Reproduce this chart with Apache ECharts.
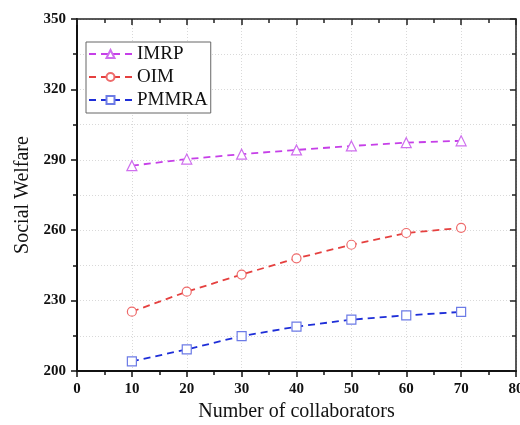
<!DOCTYPE html>
<html>
<head>
<meta charset="utf-8">
<script src="https://cdn.jsdelivr.net/npm/echarts@6/dist/echarts.min.js"></script>
<style>
  html, body { margin: 0; padding: 0; background: #fff; }
  #chart { width: 520px; height: 425px; }
</style>
</head>
<body>
<div id="chart"></div>
<script>
// Number of collaborators on the x axis
const collaborators = [10, 20, 30, 40, 50, 60, 70];

// Social welfare achieved by each scheme
const imrp  = [287.5, 290.3, 292.4, 294.2, 295.9, 297.3, 298.1];
const oim   = [225.3, 233.8, 241.1, 248.0, 253.8, 258.8, 261.0];
const pmmra = [204.1, 209.2, 214.9, 218.9, 221.9, 223.7, 225.2];

// Axis ranges and tick spacing
const xTicks = { min: 0, max: 80, step: 10 };
const yTicks = { min: 200, max: 350, step: 30 };

const serif = '"Liberation Serif", "Times New Roman", serif';

function pairs(ys) {
  return collaborators.map((x, i) => [x, ys[i]]);
}

function makeSeries(name, ys, lineColor, markColor, symbol, size) {
  return {
    name: name,
    type: 'line',
    data: pairs(ys),
    symbol: symbol,
    symbolSize: size,
    showAllSymbol: true,
    lineStyle: { color: lineColor, width: 1.8, type: [7, 5] },
    itemStyle: { color: '#fff', borderColor: markColor, borderWidth: 1.2 },
    emphasis: { disabled: true },
    z: 3
  };
}

const gridLine = { show: true, lineStyle: { color: '#d9d9d9', width: 1, type: [1, 2] } };

const chart = echarts.init(document.getElementById('chart'), null, { renderer: 'canvas' });
chart.setOption({
  animation: false,
  backgroundColor: '#fff',
  grid: { left: 77, right: 4, top: 19, bottom: 54, containLabel: false, outerBoundsMode: 'none' },
  legend: {
    orient: 'vertical',
    left: 86,
    top: 42,
    padding: [1, 3, 2, 2],
    itemGap: 1,
    itemWidth: 43,
    itemHeight: 10,
    borderColor: '#666',
    borderWidth: 1,
    backgroundColor: '#fff',
    textStyle: { fontFamily: serif, fontSize: 19, color: '#111', lineHeight: 22 },
    data: ['IMRP', 'OIM', 'PMMRA']
  },
  xAxis: [
    {
      type: 'value',
      min: xTicks.min, max: xTicks.max, interval: xTicks.step,
      position: 'bottom',
      name: 'Number of collaborators',
      nameLocation: 'middle',
      nameGap: 31,
      nameTextStyle: { fontFamily: serif, fontSize: 20, color: '#111' },
      axisLine: { show: true, onZero: false, lineStyle: { color: '#111', width: 2 } },
      axisTick: { show: true, inside: false, length: 6, lineStyle: { color: '#111', width: 1.5 } },
      minorTick: { show: true, splitNumber: 2, length: 4, lineStyle: { color: '#111', width: 1.5 } },
      axisLabel: { margin: 11, fontFamily: serif, fontSize: 15, fontWeight: 'bold', color: '#111' },
      splitLine: gridLine
    },
    {
      type: 'value',
      min: xTicks.min, max: xTicks.max, interval: xTicks.step,
      position: 'top',
      axisLine: { show: true, onZero: false, lineStyle: { color: '#222', width: 1.5 } },
      axisTick: { show: true, inside: true, length: 6, lineStyle: { color: '#222', width: 1.5 } },
      minorTick: { show: true, splitNumber: 2, length: 4, lineStyle: { color: '#222', width: 1.5 } },
      axisLabel: { show: false },
      splitLine: { show: false }
    }
  ],
  yAxis: [
    {
      type: 'value',
      min: yTicks.min, max: yTicks.max, interval: yTicks.step,
      position: 'left',
      name: 'Social Welfare',
      nameLocation: 'middle',
      nameGap: 43,
      nameTextStyle: { fontFamily: serif, fontSize: 20, color: '#111' },
      axisLine: { show: true, onZero: false, lineStyle: { color: '#111', width: 2 } },
      axisTick: { show: true, inside: false, length: 6, lineStyle: { color: '#111', width: 1.5 } },
      minorTick: { show: true, splitNumber: 2, length: 4, lineStyle: { color: '#111', width: 1.5 } },
      axisLabel: { margin: 11, fontFamily: serif, fontSize: 15, fontWeight: 'bold', color: '#111' },
      splitLine: gridLine,
      minorSplitLine: gridLine
    },
    {
      type: 'value',
      min: yTicks.min, max: yTicks.max, interval: yTicks.step,
      position: 'right',
      axisLine: { show: true, onZero: false, lineStyle: { color: '#222', width: 1.5 } },
      axisTick: { show: true, inside: true, length: 6, lineStyle: { color: '#222', width: 1.5 } },
      minorTick: { show: true, splitNumber: 2, length: 4, lineStyle: { color: '#222', width: 1.5 } },
      axisLabel: { show: false },
      splitLine: { show: false }
    }
  ],
  series: [
    makeSeries('IMRP', imrp, '#C63FE8', '#CF6FEE', 'triangle', 10),
    makeSeries('OIM', oim, '#E5403F', '#EE6B6B', 'circle', 9),
    makeSeries('PMMRA', pmmra, '#1E2ED8', '#6C7BE6', 'rect', 9)
  ]
});
</script>
</body>
</html>
